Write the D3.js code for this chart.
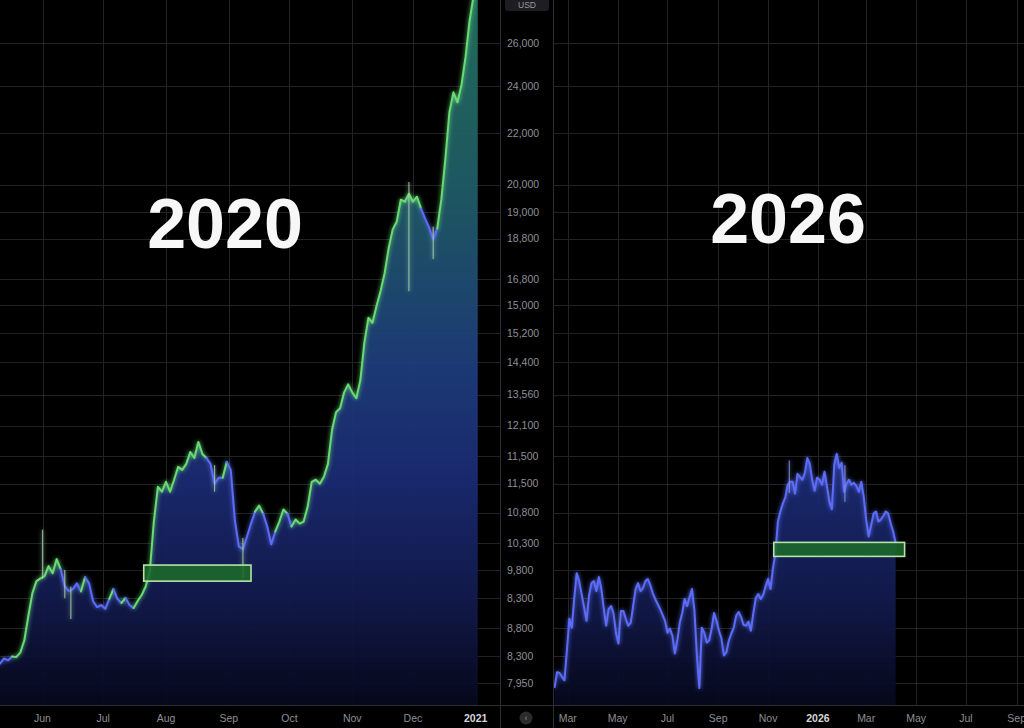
<!DOCTYPE html>
<html><head><meta charset="utf-8">
<script src="https://cdn.jsdelivr.net/npm/d3@7/dist/d3.min.js"></script>
<style>html,body{margin:0;padding:0;background:#000;overflow:hidden}svg{display:block}</style>
</head><body><svg id="c" width="1024" height="728"></svg>
<script>
// ---------------- DATA ----------------
const titles = ["2020", "2026"];

// 2020 panel: closing prices (USD), one value every 2 days from the start date
const leftStart = "2020-05-11";
const leftStepDays = 2;
const leftValues = [8240,8320,8290,8350,8340,8410,8600,9000,9390,9600,
 9650,9690,9870,9740,10000,9810,9510,9425,9460,9560,
 9420,9670,9560,9250,9150,9185,9120,9290,9460,9290,
 9220,9305,9185,9135,9254,9356,9510,9778,10720,11433,
 11328,11539,11328,11582,11862,11796,11927,12194,12057,12420,
 12148,12057,11927,11496,11625,11625,11971,11796,10760,10238,
 10183,10428,10680,10919,11040,10878,10623,10276,10525,10720,
 10960,10878,10623,10760,10680,10720,11020,11539,11582,11496,
 11646,11927,12698,13125,13222,13617,13819,13617,13468,13922,
 14929,15630,15488,15978,16427,16979,17780,18412,18685,19452,
 19380,19669,19380,19560,19134,18785,18478,18072,18444,19452,
 20975,22870,23730,23296,24078,25350,27120,28412,29476];

// 2020 panel: notable intraday wicks [date, low, high]
const leftWicks = [
 ["2020-06-01", 9640, 10560],
 ["2020-06-12", 9300, 9800],
 ["2020-06-15", 8950, 9500],
 ["2020-08-25", 11330, 11900],
 ["2020-09-08", 9650, 10400],
 ["2020-11-29", 16420, 20100],
 ["2020-12-11", 17430, 18500]
];

// 2026 panel: closing prices (USD), one value every 3 days from the start date
const rightStart = "2025-02-13";
const rightStepDays = 3;
const rightValues = [7890,8110,8100,8040,7990,8444,8953,8807,9305,9742,
 9600,9373,9150,8920,9339,9564,9600,9425,9672,9478,
 9135,8840,9117,9168,9050,8725,8552,9085,9085,8953,
 8840,8887,9168,9460,9564,9425,9478,9600,9636,9528,
 9390,9288,9202,9117,9018,8920,8725,8790,8677,8397,
 8600,8887,9050,9288,9168,9322,9460,9085,8366,7876,
 8807,8725,8568,8600,8790,9050,8920,8758,8632,8366,
 8413,8600,8709,8807,9003,9068,8986,8855,8840,8903,
 8758,9050,9305,9373,9288,9356,9511,9636,9460,9833,
 10108,10720,10919,11081,11205,11475,11539,11539,11286,11710,
 11646,11582,11731,12057,11927,11582,11349,11625,11582,11475,
 11753,11454,11122,10967,11927,12148,11840,11949,11328,11496,
 11582,11475,11518,11454,11328,11539,11226,10760,10428,10642,
 10878,10919,10720,10760,10837,10919,10878,10680,10525,10314];

// 2026 panel: notable wicks [date, low, high]
const rightWicks = [
 ["2025-11-27", 11300, 12000],
 ["2026-02-03", 11122, 11900]
];

// highlighted support zones [start, end, low, high]
const leftZone = ["2020-07-21", "2020-09-12", 9600, 9890];
const rightZone = ["2025-11-08", "2026-04-17", 10050, 10314];

// price axis: gridline values and the labels printed beside them
const priceTickValues = [26000,24000,22000,20000,19000,18100,16800,16000,15200,14400,
 13560,12800,12100,11500,10900,10300,9800,9300,8800,8350,7950];
const priceTickLabels = ["26,000","24,000","22,000","20,000","19,000","18,800","16,800","15,000","15,200","14,400",
 "13,560","12,100","11,500","11,500","10,800","10,300","9,800","8,300","8,800","8,300","7,950"];

// time axes
const leftMonthTicks = ["2020-06-01","2020-07-01","2020-08-01","2020-09-01","2020-10-01","2020-11-01","2020-12-01","2021-01-01"];
const leftMonthLabels = ["Jun","Jul","Aug","Sep","Oct","Nov","Dec","2021"];
const rightMonthTicks = ["2025-03-01","2025-05-01","2025-07-01","2025-09-01","2025-11-01","2026-01-01","2026-03-01","2026-05-01","2026-07-01","2026-09-01"];
const rightMonthLabels = ["Mar","May","Jul","Sep","Nov","2026","Mar","May","Jul","Sep"];

// ---------------- LAYOUT ----------------
const W = 1024, H = 728;
const axisY = 705;          // bottom of plotting area
const leftW = 500;          // left panel right edge
const rightX0 = 554;        // right panel left edge
const FONT = "'Liberation Sans', Arial, Helvetica, sans-serif";
const BLUE = "#5b6cf6", GREEN = "#69da74";

const parse = d3.utcParse("%Y-%m-%d");
const svg = d3.select("#c");
svg.append("rect").attr("width", W).attr("height", H).attr("fill", "#000");

const y = d3.scaleLog().domain([7950, 26000]).range([683, 43]);
const xL = d3.scaleUtc().domain([parse("2020-05-11"), parse("2021-01-13")]).range([0, leftW]);
const xR = d3.scaleUtc().domain([parse("2025-02-11"), parse("2026-09-10")]).range([553, W]);

function series(start, step, vals) {
  const s = parse(start);
  return vals.map((v, i) => ({ date: d3.utcDay.offset(s, i * step), v }));
}
const leftData = series(leftStart, leftStepDays, leftValues);
const rightData = series(rightStart, rightStepDays, rightValues);

// ---------------- DEFS ----------------
const defs = svg.append("defs");
const grad = defs.append("linearGradient").attr("id", "areaGrad")
  .attr("gradientUnits", "userSpaceOnUse").attr("x1", 0).attr("x2", 0).attr("y1", 0).attr("y2", axisY);
[[0, "#21705e"], [0.28, "#1f5a66"], [0.52, "#1d3c7a"], [0.68, "#1a2a72"], [0.85, "#121a4c"], [1, "#06081c"]]
  .forEach(([o, c]) => grad.append("stop").attr("offset", o).attr("stop-color", c));
const glow = defs.append("filter").attr("id", "glow").attr("filterUnits", "userSpaceOnUse")
  .attr("x", -20).attr("y", -40).attr("width", W + 40).attr("height", H + 80);
glow.append("feGaussianBlur").attr("stdDeviation", 2.2).attr("result", "b");
const fm = glow.append("feMerge");
fm.append("feMergeNode").attr("in", "b");
fm.append("feMergeNode").attr("in", "SourceGraphic");
defs.append("clipPath").attr("id", "clipL").append("rect").attr("x", 0).attr("y", 0).attr("width", leftW).attr("height", axisY);
defs.append("clipPath").attr("id", "clipR").append("rect").attr("x", rightX0).attr("y", 0).attr("width", W - rightX0).attr("height", axisY);

// ---------------- GRID ----------------
const grid = svg.append("g").attr("stroke", "#222226").attr("stroke-width", 1);
priceTickValues.forEach(v => {
  const yy = Math.round(y(v)) + 0.5;
  grid.append("line").attr("x1", 0).attr("x2", leftW).attr("y1", yy).attr("y2", yy);
  grid.append("line").attr("x1", rightX0).attr("x2", W).attr("y1", yy).attr("y2", yy);
});
leftMonthTicks.forEach(t => {
  const xx = Math.round(xL(parse(t))) + 0.5;
  grid.append("line").attr("x1", xx).attr("x2", xx).attr("y1", 0).attr("y2", axisY);
});
rightMonthTicks.forEach(t => {
  const xx = Math.round(xR(parse(t))) + 0.5;
  grid.append("line").attr("x1", xx).attr("x2", xx).attr("y1", 0).attr("y2", axisY);
});

// ---------------- PANELS ----------------
function drawPanel(data, x, clipId, colorByTrend, wicks, zone) {
  const g = svg.append("g").attr("clip-path", `url(#${clipId})`);
  const area = d3.area().x(d => x(d.date)).y0(axisY).y1(d => y(d.v));
  g.append("path").datum(data).attr("d", area).attr("fill", "url(#areaGrad)").attr("opacity", 0.95);

  // segment colours: green when above the trailing moving average
  const win = 8;
  const col = data.map((d, i) => {
    if (!colorByTrend) return BLUE;
    if (i < 4) return BLUE;
    const s = data.slice(Math.max(0, i - win), i + 1);
    return d.v >= d3.mean(s, e => e.v) ? GREEN : BLUE;
  });
  const runs = [];
  for (let i = 1; i < data.length; i++) {
    const c = col[i];
    if (runs.length && runs[runs.length - 1].c === c) runs[runs.length - 1].pts.push(data[i]);
    else runs.push({ c, pts: [data[i - 1], data[i]] });
  }
  const lg = g.append("g").attr("filter", "url(#glow)");
  const line = d3.line().x(d => x(d.date)).y(d => y(d.v));
  runs.forEach(r => lg.append("path").attr("d", line(r.pts)).attr("fill", "none")
    .attr("stroke", r.c).attr("stroke-width", 2).attr("stroke-linejoin", "round").attr("stroke-linecap", "round"));
  (wicks || []).forEach(w => {
    const xx = x(parse(w[0]));
    lg.append("line").attr("x1", xx).attr("x2", xx).attr("y1", y(w[1])).attr("y2", y(w[2]))
      .attr("stroke", colorByTrend ? "#a9d8b0" : "#8e9af8").attr("stroke-width", 1.2).attr("opacity", 0.75);
  });
  if (zone) {
    const x0 = x(parse(zone[0])), x1 = x(parse(zone[1]));
    g.append("rect").attr("x", x0).attr("y", y(zone[3])).attr("width", x1 - x0).attr("height", y(zone[2]) - y(zone[3]))
      .attr("fill", "#1d6a2a").attr("fill-opacity", 0.88).attr("stroke", "#b6e4a4").attr("stroke-width", 1.6);
  }
}
drawPanel(leftData, xL, "clipL", true, leftWicks, leftZone);
drawPanel(rightData, xR, "clipR", false, rightWicks, rightZone);

// ---------------- FRAME ----------------
const frame = svg.append("g").attr("stroke", "#2e2e32").attr("stroke-width", 1);
frame.append("line").attr("x1", 0).attr("x2", W).attr("y1", axisY + 0.5).attr("y2", axisY + 0.5);
frame.append("line").attr("x1", leftW + 0.5).attr("x2", leftW + 0.5).attr("y1", 0).attr("y2", H);
frame.append("line").attr("x1", rightX0 - 0.5).attr("x2", rightX0 - 0.5).attr("y1", 0).attr("y2", H);

// price labels
const yl = svg.append("g").attr("font-family", FONT).attr("font-size", 10.5).attr("fill", "#8f8f93");
priceTickValues.forEach((v, i) => {
  yl.append("text").attr("x", 507).attr("y", y(v)).attr("dy", "0.35em").text(priceTickLabels[i]);
});
// USD badge
svg.append("rect").attr("x", 505).attr("y", -4).attr("width", 44).attr("height", 15).attr("rx", 3).attr("fill", "#1d1d22");
svg.append("text").attr("x", 527).attr("y", 8).attr("text-anchor", "middle").attr("font-family", FONT)
  .attr("font-size", 8.5).attr("fill", "#9a9aa0").text("USD");

// time labels
function timeLabels(ticks, labels, x) {
  ticks.forEach((t, i) => {
    const isYear = /^\d{4}$/.test(labels[i]);
    svg.append("text").attr("x", x(parse(t))).attr("y", 718).attr("dy", "0.35em").attr("text-anchor", "middle")
      .attr("font-family", FONT).attr("font-size", 10.5).attr("font-weight", isYear ? 700 : 400)
      .attr("fill", isYear ? "#d6d6d8" : "#8f8f93").text(labels[i]);
  });
}
timeLabels(leftMonthTicks, leftMonthLabels, xL);
timeLabels(rightMonthTicks, rightMonthLabels, xR);

// small round button under the price axis
svg.append("circle").attr("cx", 526).attr("cy", 718).attr("r", 6.5).attr("fill", "#2c2c30");
svg.append("text").attr("x", 526).attr("y", 718).attr("dy", "0.35em").attr("text-anchor", "middle")
  .attr("font-family", FONT).attr("font-size", 9).attr("fill", "#8a8a8e").text("‹");

// big titles
svg.append("text").attr("x", 225).attr("y", 248).attr("text-anchor", "middle").attr("font-family", FONT)
  .attr("font-weight", 700).attr("font-size", 70).attr("fill", "#f7f7f7").text(titles[0]);
svg.append("text").attr("x", 788).attr("y", 243).attr("text-anchor", "middle").attr("font-family", FONT)
  .attr("font-weight", 700).attr("font-size", 70).attr("fill", "#f7f7f7").text(titles[1]);
</script></body></html>
